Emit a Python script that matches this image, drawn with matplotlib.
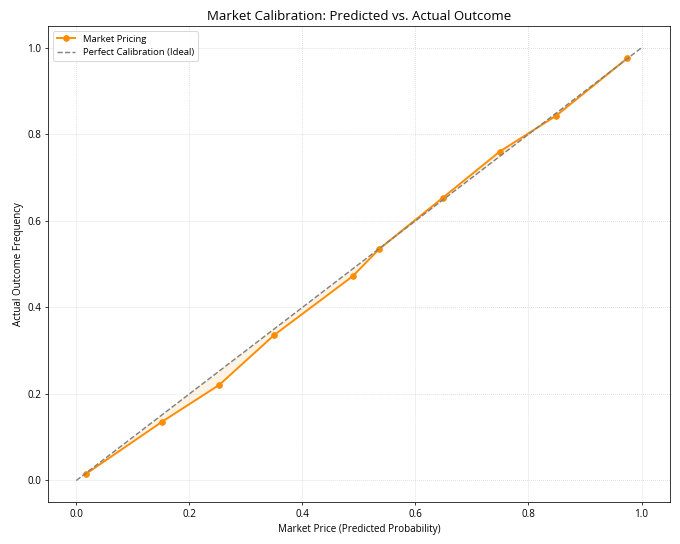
import numpy as np
import matplotlib.pyplot as plt

plt.rcParams['font.family'] = ['Open Sans', 'DejaVu Sans']

# 市場価格（予測確率）と実際の結果頻度
predicted = [0.018, 0.152, 0.253, 0.350, 0.489, 0.536, 0.648, 0.749, 0.849, 0.975]
actual = [0.016, 0.136, 0.221, 0.336, 0.472, 0.535, 0.653, 0.760, 0.843, 0.976]
ideal = [0.0, 1.0]

predicted = np.array(predicted)
actual = np.array(actual)

fig, ax = plt.subplots(figsize=(10, 8), dpi=68)

ax.plot(predicted, actual, marker='o', color='darkorange', linewidth=2,
        markersize=6, label='Market Pricing')
ax.plot(ideal, ideal, linestyle='--', color='gray', label='Perfect Calibration (Ideal)')
ax.fill_between(predicted, actual, predicted, color='darkorange', alpha=0.1)

ax.set_title('Market Calibration: Predicted vs. Actual Outcome', fontsize=14)
ax.set_xlabel('Market Price (Predicted Probability)', fontsize=10.5)
ax.set_ylabel('Actual Outcome Frequency', fontsize=10.5)
ax.tick_params(labelsize=10.5)
ax.grid(True, linestyle=':', alpha=0.6)
ax.legend(loc='upper left')

plt.subplots_adjust(left=0.0706, right=0.985, top=0.952, bottom=0.077)
plt.savefig('out.png')
